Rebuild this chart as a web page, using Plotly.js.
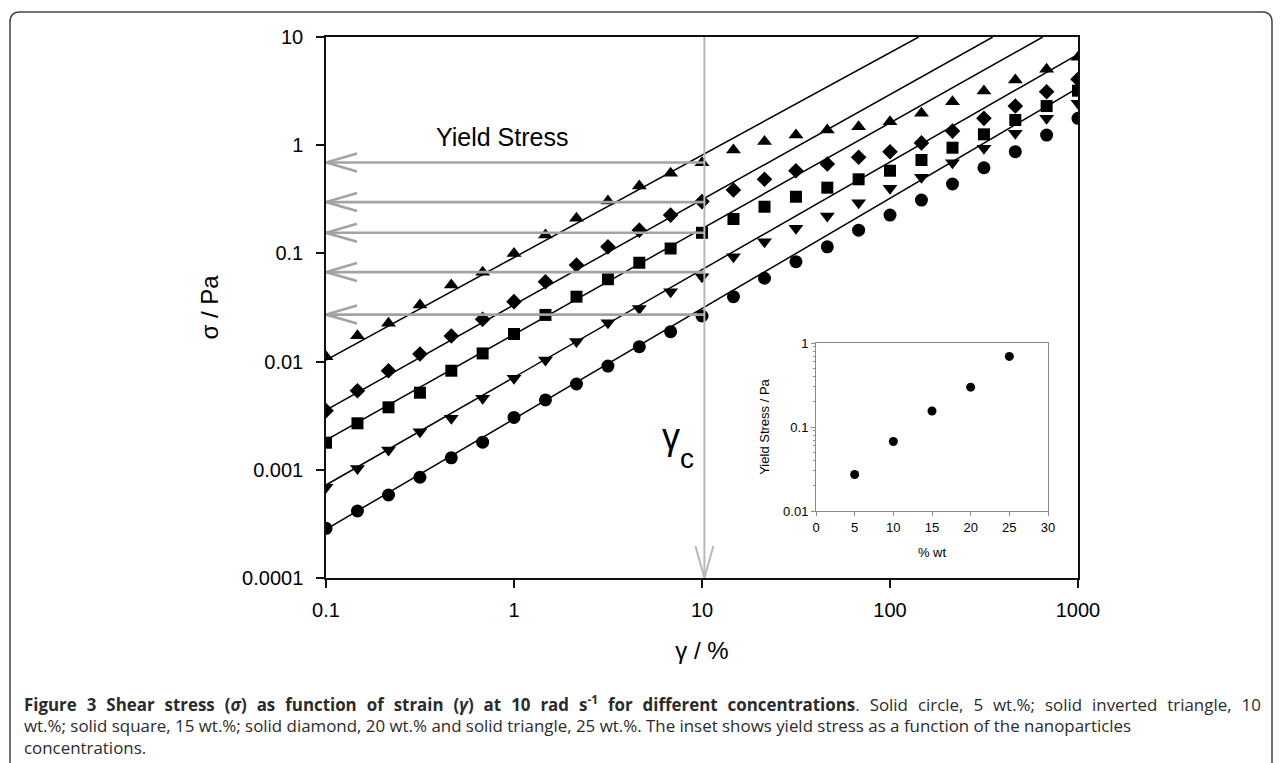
<!DOCTYPE html>
<html>
<head>
<meta charset="utf-8">
<script src="https://cdn.plot.ly/plotly-3.0.1.min.js"></script>
<style>html,body{margin:0;padding:0;background:#fff;}#chart{width:1282px;height:763px;}</style>
</head>
<body>
<div id="chart"></div>
<script>
// ---- data ----
const strain = [0.1, 0.147, 0.215, 0.316, 0.464, 0.681, 1, 1.47, 2.15, 3.16, 4.64, 6.81, 10, 14.7, 21.5, 31.6, 46.4, 68.1, 100, 147, 215, 316, 464, 681, 1000];
const stress5  = [0.000288, 0.000416, 0.000585, 0.000853, 0.00129, 0.00180, 0.00305, 0.00442, 0.00621, 0.0091, 0.01375, 0.0189, 0.0264, 0.0398, 0.0589, 0.0838, 0.115, 0.164, 0.226, 0.311, 0.438, 0.619, 0.871, 1.24, 1.77];
const stress10 = [0.00069, 0.00103, 0.00152, 0.00225, 0.00299, 0.00458, 0.00701, 0.01035, 0.0153, 0.0229, 0.031, 0.0443, 0.061, 0.0933, 0.128, 0.171, 0.222, 0.294, 0.40, 0.505, 0.689, 0.935, 1.29, 1.77, 2.44];
const stress15 = [0.00178, 0.00269, 0.00378, 0.00516, 0.00824, 0.0119, 0.0180, 0.0270, 0.0398, 0.0577, 0.082, 0.111, 0.155, 0.208, 0.270, 0.334, 0.405, 0.484, 0.581, 0.730, 0.948, 1.26, 1.71, 2.30, 3.19];
const stress20 = [0.00352, 0.00538, 0.00824, 0.01175, 0.01725, 0.0246, 0.0358, 0.0547, 0.0781, 0.115, 0.164, 0.226, 0.301, 0.386, 0.484, 0.581, 0.670, 0.773, 0.871, 1.05, 1.35, 1.77, 2.30, 3.12, 4.06];
const stress25 = [0.0111, 0.0173, 0.0226, 0.0333, 0.051, 0.0668, 0.100, 0.148, 0.211, 0.305, 0.420, 0.550, 0.689, 0.903, 1.08, 1.24, 1.38, 1.48, 1.65, 1.97, 2.52, 3.17, 4.01, 5.04, 6.49];

// linear-regime fit lines: start (at strain 0.1) and end points
const fitStartX = [0.1, 0.1, 0.1, 0.1, 0.1];
const fitStartY = [0.000282, 0.000724, 0.00188, 0.00357, 0.01035];
const fitEndX   = [1000, 1000, 649, 352, 142];
const fitEndY   = [3.38, 6.92, 10, 10, 10];

// yield stress (inset + arrows) and critical strain
const concentration = [5, 10, 15, 20, 25];
const yieldStress   = [0.0272, 0.0672, 0.155, 0.298, 0.692];
const criticalStrain = 10.3;

const xTickVals = [0.1, 1, 10, 100, 1000];
const xTickText = ['0.1', '1', '10', '100', '1000'];
const yTickVals = [0.0001, 0.001, 0.01, 0.1, 1, 10];
const yTickText = ['0.0001', '0.001', '0.01', '0.1', '1', '10'];
const insetXTicks = [0, 5, 10, 15, 20, 25, 30];
const insetYTicks = [0.01, 0.1, 1];
const insetYText = ['0.01', '0.1', '1'];
const insetMinorTicks = [0.02, 0.03, 0.04, 0.05, 0.06, 0.07, 0.08, 0.09, 0.2, 0.3, 0.4, 0.5, 0.6, 0.7, 0.8, 0.9];

const seriesY = [stress5, stress10, stress15, stress20, stress25];
const symbols = ['circle', 'triangle-down', 'square', 'diamond', 'triangle-up'];
const sizes = [13, 13, 12, 12, 13];
const names = ['5 wt.%', '10 wt.%', '15 wt.%', '20 wt.%', '25 wt.%'];

// ---- layout geometry ----
const W = 1282, H = 763;
const M = {l: 326, r: 204, t: 37, b: 185};
const PW = W - M.l - M.r, PH = H - M.t - M.b;
const xRange = [-1, 3], yRange = [-4, 1];
const pxPerDecX = PW / (xRange[1] - xRange[0]);
const pxPerDecY = PH / (yRange[1] - yRange[0]);
const px2paperX = p => (p - M.l) / PW;
const py2paperY = p => (H - M.b - p) / PH;

const FONT = 'Arial, "Liberation Sans", sans-serif';
const GRAY = '#a3a3a3';

const traces = [];
// fit lines
for (let i = 0; i < 5; i++) {
  traces.push({x: [fitStartX[i], fitEndX[i]], y: [fitStartY[i], fitEndY[i]], mode: 'lines',
    line: {color: '#000', width: 1.5}, hoverinfo: 'skip', showlegend: false, xaxis: 'x', yaxis: 'y'});
}
// data markers
for (let i = 0; i < 5; i++) {
  traces.push({x: strain, y: seriesY[i], mode: 'markers', name: names[i],
    marker: {symbol: symbols[i], size: sizes[i], color: '#000', line: {width: 0}},
    showlegend: false, xaxis: 'x', yaxis: 'y'});
}
// yield-stress arrows (horizontal, pointing left to the stress axis)
const headLen = 31, headHalf = 9;
const hx = xTickVals[0] * Math.pow(10, headLen / pxPerDecX);
const hf = Math.pow(10, headHalf / pxPerDecY);
yieldStress.forEach(ys => {
  traces.push({x: [criticalStrain, xTickVals[0]], y: [ys, ys], mode: 'lines',
    line: {color: GRAY, width: 2.6}, hoverinfo: 'skip', showlegend: false});
  traces.push({x: [hx, xTickVals[0], hx], y: [ys * hf, ys, ys / hf], mode: 'lines',
    line: {color: GRAY, width: 2.6}, hoverinfo: 'skip', showlegend: false});
});
// critical strain arrow (vertical, pointing down)
const yBottom = Math.pow(10, yRange[0]), yTop = Math.pow(10, yRange[1]);
const vf = Math.pow(10, headHalf / pxPerDecX);
const vy = yBottom * Math.pow(10, 32 / pxPerDecY);
traces.push({x: [criticalStrain, criticalStrain], y: [yTop, yBottom], mode: 'lines',
  line: {color: '#b8b8b8', width: 2}, hoverinfo: 'skip', showlegend: false});
traces.push({x: [criticalStrain / vf, criticalStrain, criticalStrain * vf], y: [vy, yBottom, vy], mode: 'lines',
  line: {color: '#b8b8b8', width: 2}, hoverinfo: 'skip', showlegend: false});
// inset
traces.push({x: concentration, y: yieldStress, mode: 'markers', xaxis: 'x2', yaxis: 'y2',
  marker: {symbol: 'circle', size: 9, color: '#000'}, showlegend: false});

// frame with rounded top corners
const bL = 10, bR = 1272, bT = 12, bB = 790, rad = 10;
const X = px2paperX, Y = py2paperY;
const framePath = `M${X(bL)},${Y(bB)} L${X(bL)},${Y(bT + rad)} Q${X(bL)},${Y(bT)} ${X(bL + rad)},${Y(bT)} ` +
  `L${X(bR - rad)},${Y(bT)} Q${X(bR)},${Y(bT)} ${X(bR)},${Y(bT + rad)} L${X(bR)},${Y(bB)}`;

const CAP = '"Open Sans", "Noto Sans", sans-serif';
const capColor = '#2b2b2b';
const captionLines = [
  '<span style="word-spacing:5.6px"><b>Figure 3 Shear stress (<i>σ</i>) as function of strain (<i>γ</i>) at 10 rad s<sup>-1</sup> for different concentrations</b>. Solid circle, 5 wt.%; solid inverted triangle, 10</span>',
  'wt.%; solid square, 15 wt.%; solid diamond, 20 wt.% and solid triangle, 25 wt.%. The inset shows yield stress as a function of the nanoparticles',
  'concentrations.'
];
const captionY = [703, 725, 747];

const annotations = [
  {text: 'Yield Stress', xref: 'paper', yref: 'paper', x: X(502), y: Y(137), showarrow: false,
   font: {family: FONT, size: 25, color: '#000'}, xanchor: 'center', yanchor: 'middle'},
  {text: 'γ', xref: 'paper', yref: 'paper', x: X(671), y: Y(436), showarrow: false,
   font: {family: FONT, size: 36, color: '#000'}, xanchor: 'center', yanchor: 'middle'},
  {text: 'c', xref: 'paper', yref: 'paper', x: X(687), y: Y(458), showarrow: false,
   font: {family: FONT, size: 28, color: '#000'}, xanchor: 'center', yanchor: 'middle'}
];
captionLines.forEach((t, i) => annotations.push({text: t, xref: 'paper', yref: 'paper', x: X(22), y: Y(captionY[i]),
  showarrow: false, xanchor: 'left', yanchor: 'middle', align: 'left', font: {family: CAP, size: 16.9, color: capColor}}));

const layout = {
  width: W, height: H, margin: M, paper_bgcolor: '#fff', plot_bgcolor: 'rgba(0,0,0,0)',
  showlegend: false, font: {family: FONT, color: '#000'},
  xaxis: {type: 'log', range: xRange, tickvals: xTickVals, ticktext: xTickText, showgrid: false, zeroline: false,
    showline: true, linecolor: '#111', linewidth: 1.5, mirror: true, ticks: 'outside', ticklen: 8, tickwidth: 1.5,
    tickcolor: '#111', tickfont: {family: FONT, size: 20, color: '#000'}, ticklabelstandoff: 5,
    title: {text: 'γ / %', font: {family: FONT, size: 24, color: '#000'}, standoff: 22}},
  yaxis: {type: 'log', range: yRange, tickvals: yTickVals, ticktext: yTickText, showgrid: false, zeroline: false,
    showline: true, linecolor: '#111', linewidth: 1.5, mirror: true, ticks: 'outside', ticklen: 8, tickwidth: 1.5,
    tickcolor: '#111', tickfont: {family: FONT, size: 20, color: '#000'}, ticklabelstandoff: 9,
    title: {text: 'σ / Pa', font: {family: FONT, size: 24, color: '#000'}, standoff: 17}},
  xaxis2: {domain: [X(816), X(1048)], anchor: 'y2', range: [0, 30], tickvals: insetXTicks, showgrid: false, zeroline: false,
    showline: true, linecolor: '#8a8a8a', linewidth: 1, mirror: true, ticks: 'outside', ticklen: 4, tickcolor: '#8a8a8a',
    tickfont: {family: FONT, size: 13, color: '#000'},
    title: {text: '% wt', font: {family: FONT, size: 13, color: '#000'}, standoff: 14}},
  yaxis2: {domain: [Y(511), Y(343)], anchor: 'x2', type: 'log', range: [-2, 0], tickvals: insetYTicks, ticktext: insetYText,
    showgrid: false, zeroline: false, showline: true, linecolor: '#8a8a8a', linewidth: 1, mirror: true,
    ticks: 'outside', ticklen: 4, tickcolor: '#8a8a8a', tickfont: {family: FONT, size: 13, color: '#000'},
    minor: {tickvals: insetMinorTicks, ticks: 'outside', ticklen: 2, tickcolor: '#8a8a8a', showgrid: false},
    title: {text: 'Yield Stress / Pa', font: {family: FONT, size: 13, color: '#000'}, standoff: 10}},
  shapes: [{type: 'path', xref: 'paper', yref: 'paper', path: framePath, line: {color: '#444', width: 1.5}, layer: 'above'}],
  annotations: annotations
};

Plotly.newPlot('chart', traces, layout, {displayModeBar: false, responsive: false});
</script>
</body>
</html>
